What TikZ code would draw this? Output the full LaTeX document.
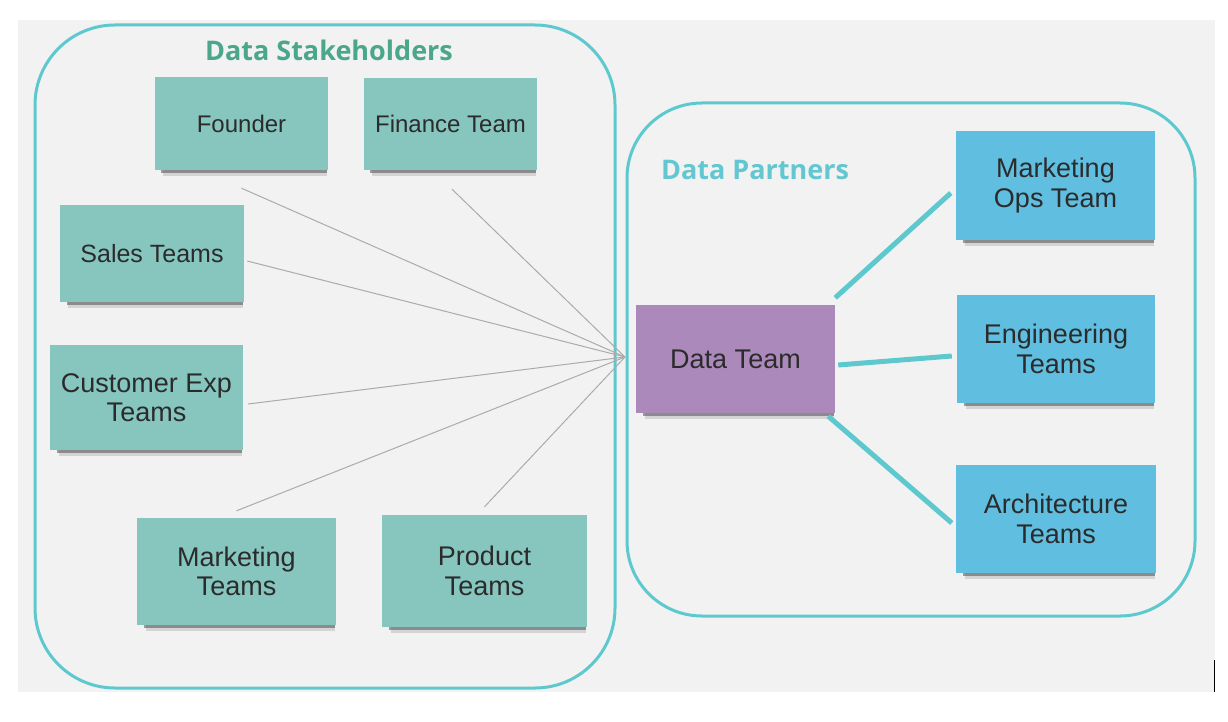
\documentclass[tikz,border=0pt]{standalone}
\usepackage{fontspec}
\setmainfont{Liberation Sans}
\newfontfamily\titlefont{Open Sans}
\usepackage{tikz}
\usetikzlibrary{arrows.meta,shapes,positioning,shadows}
\usetikzlibrary{calc}

\definecolor{bggray}{HTML}{F2F2F2}
\definecolor{ringteal}{HTML}{5EC8CF}
\definecolor{stakegreen}{HTML}{4AA78B}
\definecolor{partnerteal}{HTML}{62C7D1}
\definecolor{notegreen}{HTML}{86C6BF}
\definecolor{noteblue}{HTML}{60BEE0}
\definecolor{notepurple}{HTML}{AB89BA}
\definecolor{notetext}{HTML}{2B2B2B}
\definecolor{linkgray}{HTML}{ABABAB}

\begin{document}
\begin{tikzpicture}[x=1pt,y=-1pt,line join=round,
    note/.style={rectangle,inner sep=0pt,align=center,text=notetext,
        drop shadow={shadow xshift=4pt,shadow yshift=-9pt,opacity=.12,fill=black,shadow scale=.95},
        drop shadow={shadow xshift=3pt,shadow yshift=-5pt,opacity=.45,fill=black!80,shadow scale=.96}},
    stake/.style={note,fill=notegreen},
    partner/.style={note,fill=noteblue},
    fsmall/.style={font=\fontsize{24}{28}\selectfont},
    fmid/.style={font=\fontsize{25}{29}\selectfont},
    fbig/.style={font=\fontsize{27}{29.5}\selectfont},
    grouptitle/.style={font=\titlefont\bfseries\fontsize{27}{30}\selectfont},
    ring/.style={draw=ringteal,line width=3pt},
    spoke/.style={draw=linkgray,line width=1pt},
    bond/.style={draw=ringteal,line width=5pt}]

        % --- Canvas ---
        \useasboundingbox (0,0) rectangle (1228,722);
        \fill[bggray] (18,20) rectangle (1215,692);
        \draw[black,line width=1pt] (1214,660) -- (1214,692);

        % Group outlines
        \draw[ring,rounded corners=80pt] (35,25) rectangle (615,688);
        \draw[ring,rounded corners=75pt] (627,103) rectangle (1195,616);

        % Group titles
        \node[grouptitle,text=stakegreen] (stitle) at (329,50) {Data Stakeholders};
        \node[grouptitle,text=partnerteal] (ptitle) at (755,170) {Data Partners};

        % --- Stakeholder notes ---
        \node[stake,fsmall,minimum width=173pt,minimum height=93pt] (founder) at (241.5,123.5) {Founder};
        \node[stake,fsmall,minimum width=173pt,minimum height=92pt] (finance) at (450.5,124) {Finance Team};
        \node[stake,fmid,minimum width=184pt,minimum height=97pt] (sales) at (152,253.5) {Sales Teams};
        \node[stake,fbig,minimum width=193pt,minimum height=105pt] (custexp) at (146.5,397.5) {Customer Exp\\Teams};
        \node[stake,fbig,minimum width=199pt,minimum height=107pt] (marketing) at (236.5,571.5) {Marketing\\Teams};
        \node[stake,fbig,minimum width=205pt,minimum height=112pt] (product) at (484.5,571) {Product\\Teams};

        % --- Partner notes ---
        \node[note,fill=notepurple,fbig,minimum width=199pt,minimum height=108pt] (datateam) at (735.5,359) {Data Team};
        \node[partner,fbig,minimum width=199pt,minimum height=109pt] (mktops) at (1055.5,185.5) {Marketing\\Ops Team};
        \node[partner,fbig,minimum width=198pt,minimum height=108pt] (engineering) at (1056,349) {Engineering\\Teams};
        \node[partner,fbig,minimum width=200pt,minimum height=108pt] (architecture) at (1056,519) {Architecture\\Teams};

        % Meeting point of the thin lines
        \coordinate (hub) at (625,357);

        % Stakeholders to data team
        \draw[spoke] ([yshift=-18pt]founder.south) -- (hub);
        \draw[spoke] ([shift={(1.5pt,-19pt)}]finance.south) -- (hub);
        \draw[spoke] ([shift={(3pt,-7.5pt)}]sales.east) -- (hub);
        \draw[spoke] ([shift={(5pt,-6.5pt)}]custexp.east) -- (hub);
        \draw[spoke] ([yshift=7pt]marketing.north) -- (hub);
        \draw[spoke] ([yshift=8pt]product.north) -- (hub);

        % Data team to partners
        \draw[bond] ([yshift=7pt]datateam.north east) -- ([shift={(-5pt,-7.5pt)}]mktops.west);
        \draw[bond] ([shift={(3pt,-6pt)}]datateam.east) -- ([shift={(-5pt,-7pt)}]engineering.west);
        \draw[bond] ([shift={(-7pt,-3pt)}]datateam.south east) -- ([shift={(-4pt,-4pt)}]architecture.west);

    \end{tikzpicture}
\end{document}
